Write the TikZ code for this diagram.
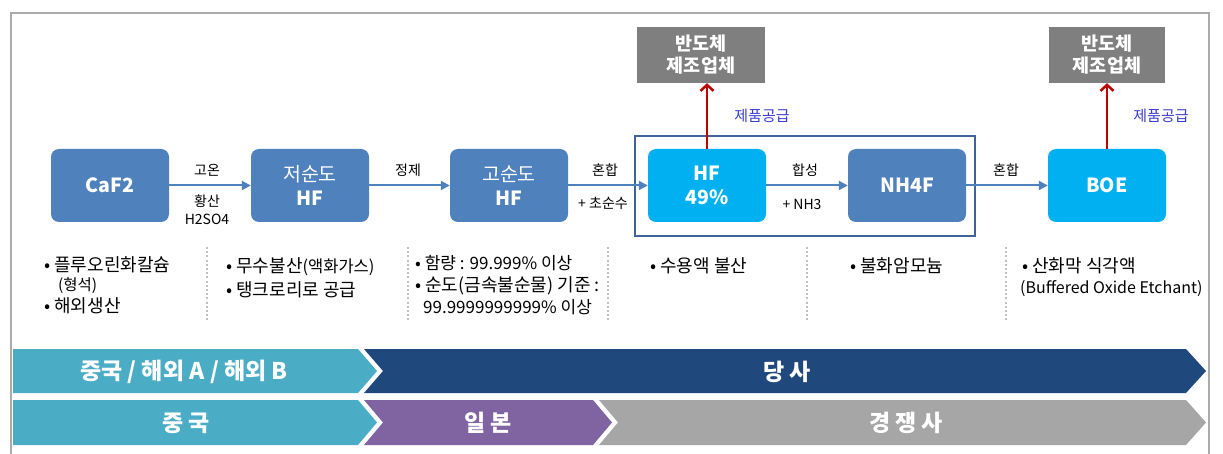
\documentclass[tikz,border=0pt]{standalone}
\usepackage{fontspec}
\setmainfont{Noto Sans CJK KR}
\usetikzlibrary{arrows.meta}
\definecolor{steel}{HTML}{4F81BD}
\definecolor{cyanbox}{HTML}{00B0F0}
\definecolor{graybox}{HTML}{7F7F7F}
\definecolor{supplyred}{HTML}{C00000}
\definecolor{supplyblue}{HTML}{3A3AD0}
\definecolor{grpline}{HTML}{3F6497}
\definecolor{bandlight}{HTML}{4BACC6}
\definecolor{banddark}{HTML}{1F497D}
\definecolor{bandpurple}{HTML}{8064A2}
\definecolor{bandgray}{HTML}{A6A6A6}
\definecolor{framegray}{HTML}{ABABAB}
\definecolor{sepgray}{HTML}{C0C0C0}
\tikzset{
  procbox/.style={rounded corners=8pt, minimum width=118pt, minimum height=73pt,
    text=white, align=center, inner sep=0pt, font=\fontsize{19.5}{24}\selectfont},
  makerbox/.style={fill=graybox, minimum height=56pt, text=white, align=center,
    inner sep=0pt, font=\bfseries\fontsize{18.5}{22}\selectfont},
  flow/.style={draw=steel, line width=2pt, -{Triangle[length=9pt,width=9pt]}},
  supply/.style={draw=supplyred, line width=2.5pt, -{Straight Barb[length=6pt,width=13pt]}},
  lbl/.style={font=\fontsize{14}{16}\selectfont, inner sep=0pt, align=center},
  supplylbl/.style={font=\fontsize{15}{17}\selectfont, text=supplyblue, inner sep=0pt},
  bullet/.style={anchor=west, inner sep=0pt, font=\fontsize{18}{20}\selectfont},
  sep/.style={draw=sepgray, line width=2pt, dash pattern=on 2pt off 2.2pt},
  bandtext/.style={text=white, inner sep=0pt, font=\bfseries\fontsize{23}{26}\selectfont}
}
\begin{document}
\begin{tikzpicture}[x=1pt,y=-1pt]
\useasboundingbox (0,0) rectangle (1223,454);
\fill[white] (0,0) rectangle (1223,454);
% frame
\draw[framegray, line width=2.5pt] (11,456) -- (11,13) -- (1209,13) -- (1209,456);

% group outline
\node[draw=grpline, line width=2pt, minimum width=340pt, minimum height=100pt, inner sep=0pt] (grp) at (805,186) {};

% process boxes
\node[procbox, fill=steel] (caf) at (110,185.5) {\bfseries CaF2};
\node[procbox, fill=steel] (lhf) at (310,185.5) {저순도\\\bfseries HF};
\node[procbox, fill=steel] (hhf) at (509,185.5) {고순도\\\bfseries HF};
\node[procbox, fill=cyanbox] (hf49) at (707,185.5) {\bfseries HF\\\bfseries 49\%};
\node[procbox, fill=steel] (nh4f) at (907,185.5) {\bfseries NH4F};
\node[procbox, fill=cyanbox] (boe) at (1107,185.5) {\bfseries BOE};

% maker boxes
\node[makerbox, minimum width=128pt] (mk1) at (701,55) {반도체\\제조업체};
\node[makerbox, minimum width=116pt] (mk2) at (1107,55) {반도체\\제조업체};

% flows
\draw[flow] (caf.east) -- (lhf.west);
\draw[flow] (lhf.east) -- (hhf.west);
\draw[flow] (hhf.east) -- (hf49.west);
\draw[flow] (hf49.east) -- (nh4f.west);
\draw[flow] (nh4f.east) -- (boe.west);

% flow labels
\node[lbl] (a1) at (207,170) {고온};
\node[lbl] (b1) at (207,201) {황산};
\node[lbl] (c1) at (207,219) {H2SO4};
\node[lbl] (a2) at (408,170) {정제};
\node[lbl] (a3) at (605,170) {혼합};
\node[lbl] (b3) at (603,203) {+ 초순수};
\node[lbl] (a4) at (805,170) {합성};
\node[lbl] (b4) at (802,204) {+ NH3};
\node[lbl] (a5) at (1006,170) {혼합};

% supply arrows
\draw[supply] (hf49.north) -- (hf49.north |- mk1.south);
\draw[supply] (boe.north) -- (boe.north |- mk2.south);
\node[supplylbl] (s1) at (762,116) {제품공급};
\node[supplylbl] (s2) at (1161,116) {제품공급};

% separators
\draw[sep] (207,247) -- (207,322);
\draw[sep] (408,247) -- (408,322);
\draw[sep] (608,247) -- (608,322);
\draw[sep] (807,247) -- (807,322);
\draw[sep] (1006,247) -- (1006,322);

% descriptions
\node[bullet] (d1a) at (44,265) {• 플루오린화칼슘};
\node[bullet, font=\fontsize{15.5}{17}\selectfont] (d1b) at (58,286) {(형석)};
\node[bullet] (d1c) at (44,306) {• 해외생산};
\node[bullet] (d2a) at (226,267) {• 무수불산{\fontsize{16.5}{18}\selectfont(액화가스)}};
\node[bullet] (d2b) at (226,290) {• 탱크로리로 공급};
\node[bullet, font=\fontsize{17}{19}\selectfont] (d3a) at (415,263) {• 함량 : 99.999\% 이상};
\node[bullet] (d3b) at (415,285.5) {• 순도(금속불순물) 기준 :};
\node[bullet, font=\fontsize{17}{19}\selectfont] (d3c) at (423,307) {99.9999999999\% 이상};
\node[bullet] (d4a) at (650,266) {• 수용액 불산};
\node[bullet] (d5a) at (850,266) {• 불화암모늄};
\node[bullet] (d6a) at (1022,266) {• 산화막 식각액};
\node[bullet, font=\fontsize{16}{18}\selectfont] (d6b) at (1020,289) {(Buffered Oxide Etchant)};

% band row 1
\fill[bandlight] (13,349) -- (358,349) -- (377,371) -- (358,393) -- (13,393) -- cycle;
\fill[banddark] (364,349) -- (1186,349) -- (1206,371) -- (1186,393) -- (364,393) -- (383,371) -- cycle;
\node[bandtext] (r1a) at (184,372) {중국 / 해외 A / 해외 B};
\node[bandtext] (r1b) at (787,372) {당 사};
% band row 2
\fill[bandlight] (13,400) -- (358,400) -- (377,422.5) -- (358,445) -- (13,445) -- cycle;
\fill[bandpurple] (364,400) -- (593,400) -- (612,422.5) -- (593,445) -- (364,445) -- (383,422.5) -- cycle;
\fill[bandgray] (599,400) -- (1186,400) -- (1206,422.5) -- (1186,445) -- (599,445) -- (618,422.5) -- cycle;
\node[bandtext] (r2a) at (186,423) {중 국};
\node[bandtext] (r2b) at (488,423) {일 본};
\node[bandtext] (r2c) at (906,423) {경 쟁 사};
\end{tikzpicture}
\end{document}
